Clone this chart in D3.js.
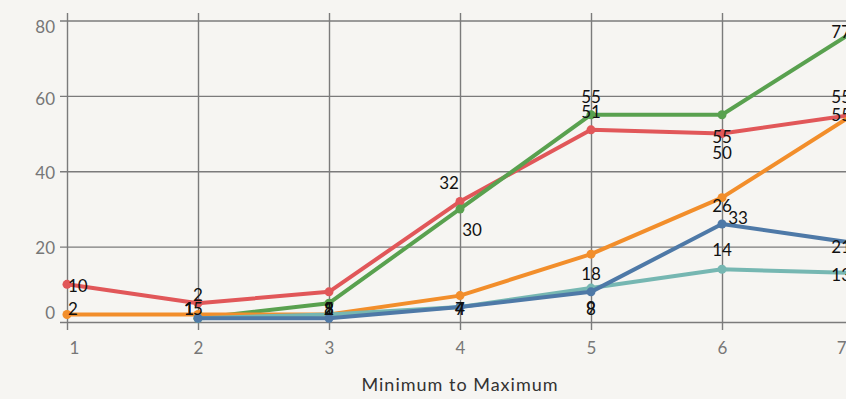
<!DOCTYPE html>
<html>
<head>
<meta charset="utf-8">
<script src="https://cdn.jsdelivr.net/npm/d3@7"></script>
<style>
  html, body { margin: 0; padding: 0; background: #f6f5f2; }
  svg { display: block; font-family: Lato, "Open Sans", sans-serif; }
</style>
</head>
<body>
<svg id="chart" width="846" height="399"></svg>
<script>
// Categories along the x axis
const categories = [1, 2, 3, 4, 5, 6, 7];
const yTicks = [0, 20, 40, 60, 80];
const xTitle = "Minimum to Maximum";

// Series values (null = no value at that step)
const redValues    = [10, 5, 8, 32, 51, 50, 55];
const greenValues  = [null, 1, 5, 30, 55, 55, 77];
const orangeValues = [2, 2, 2, 7, 18, 33, 55];
const tealValues   = [null, 1, 2, 4, 9, 14, 13];
const blueValues   = [null, 1, 1, 4, 8, 26, 21];

// Drawing order and colours
const series = [
  { name: "red",    values: redValues,    color: "#e15759" },
  { name: "green",  values: greenValues,  color: "#59a14f" },
  { name: "orange", values: orangeValues, color: "#f28e2b" },
  { name: "teal",   values: tealValues,   color: "#76b7b2" },
  { name: "blue",   values: blueValues,   color: "#4e79a7" }
];

// Label nudges [dx, dy] from each point, in px
const labelNudge = {
  red:    [[0, 2], [0, 20], [0, 20], [-11, -19], [0, -18], [0, 19], [0, 0]],
  green:  [null, [-9, 20], [0, 20], [12, 21], [0, -18], [0, 22], [0, 0]],
  orange: [[0, 20], [0, -20], [0, 20], [0, 20], [0, 20], [16, 20], [0, -18]],
  teal:   [null, [-9, 20], [0, 20], [0, 20], [0, 20], [0, -19], [0, 2]],
  blue:   [null, [-9, 20], [0, 20], [0, 20], [0, 20], [0, -18], [0, 4]]
};
// Vertical offset of each y tick label from its grid line
const yLabelShift = { 0: -10, 20: 1, 40: 1, 60: 3, 80: 6 };

const W = 846, H = 399;
const m = { left: 67, right: 853, top: 13, bottom: 322 };

const svg = d3.select("#chart");
svg.append("rect").attr("width", W).attr("height", H).attr("fill", "#f6f5f2");

const x = d3.scaleLinear().domain([1, 7]).range([m.left, m.right]);
const y = d3.scaleLinear().domain([0, 82]).range([m.bottom, m.top]);

const gridColor = "#7b7b7b";

// Horizontal grid lines + y ticks
const yAxis = svg.append("g")
  .attr("transform", `translate(${m.left},0)`)
  .call(d3.axisLeft(y).tickValues(yTicks).tickSize(-(W - m.left + 10)).tickSizeOuter(0).tickPadding(12).tickFormat(d => d));
yAxis.select(".domain").remove();
yAxis.selectAll(".tick line").attr("stroke", gridColor).attr("stroke-width", 1.4).attr("x1", -7);
yAxis.selectAll(".tick text")
  .attr("fill", "#777").attr("font-size", 17).attr("font-family", "Lato")
  .attr("dy", d => (yLabelShift[d] || 0) + 6 + "px");

// Vertical grid lines + x ticks
const xAxis = svg.append("g")
  .attr("transform", `translate(0,${m.top})`)
  .call(d3.axisBottom(x).tickValues(categories).tickSize(m.bottom - m.top + 8).tickSizeOuter(0).tickPadding(12).tickFormat(d3.format("d")));
xAxis.select(".domain").remove();
xAxis.selectAll(".tick line").attr("stroke", gridColor).attr("stroke-width", 1.4);
xAxis.selectAll(".tick text")
  .attr("fill", "#777").attr("font-size", 17).attr("font-family", "Lato")
  .attr("text-anchor", (d, i) => i === 0 ? "start" : (i === categories.length - 1 ? "end" : "middle"))
  .attr("dx", (d, i) => i === 0 ? 2 : (i === categories.length - 1 ? -7 : 0));

// Lines and points
const line = d3.line()
  .defined(d => d.v !== null)
  .x(d => x(d.c))
  .y(d => y(d.v));

series.forEach(s => {
  const pts = categories.map((c, i) => ({ c, v: s.values[i] }));
  svg.append("path")
    .datum(pts)
    .attr("fill", "none")
    .attr("stroke", s.color)
    .attr("stroke-width", 4)
    .attr("stroke-linejoin", "round")
    .attr("d", line);
  svg.append("g").selectAll("circle")
    .data(pts.filter(d => d.v !== null))
    .join("circle")
    .attr("cx", d => x(d.c))
    .attr("cy", d => y(d.v))
    .attr("r", 4.5)
    .attr("fill", s.color);
});

// Value labels
const labelLayer = svg.append("g");
series.forEach(s => {
  categories.forEach((c, i) => {
    const v = s.values[i];
    if (v === null) return;
    const [dx, dy] = labelNudge[s.name][i];
    let cy = Math.min(y(v) + dy, 309);
    const t = labelLayer.append("text")
      .attr("x", x(c) + dx)
      .attr("y", cy)
      .attr("dy", "0.36em")
      .attr("text-anchor", "middle")
      .attr("font-size", 17)
      .attr("font-family", "Lato")
      .attr("fill", "#111")
      .text(v);
    const b = t.node().getBBox();
    if (b.x < m.left + 1) t.attr("x", +t.attr("x") + (m.left + 1 - b.x));
    if (b.x + b.width > m.right - 2) t.attr("x", +t.attr("x") - (b.x + b.width - (m.right - 2)));
  });
});

// Axis title
svg.append("text")
  .attr("x", (m.left + m.right) / 2)
  .attr("y", 385)
  .attr("dy", "0.36em")
  .attr("text-anchor", "middle")
  .attr("font-size", 18)
  .attr("font-family", "Lato")
  .attr("letter-spacing", "1px")
  .attr("fill", "#333")
  .text(xTitle);
</script>
</body>
</html>
